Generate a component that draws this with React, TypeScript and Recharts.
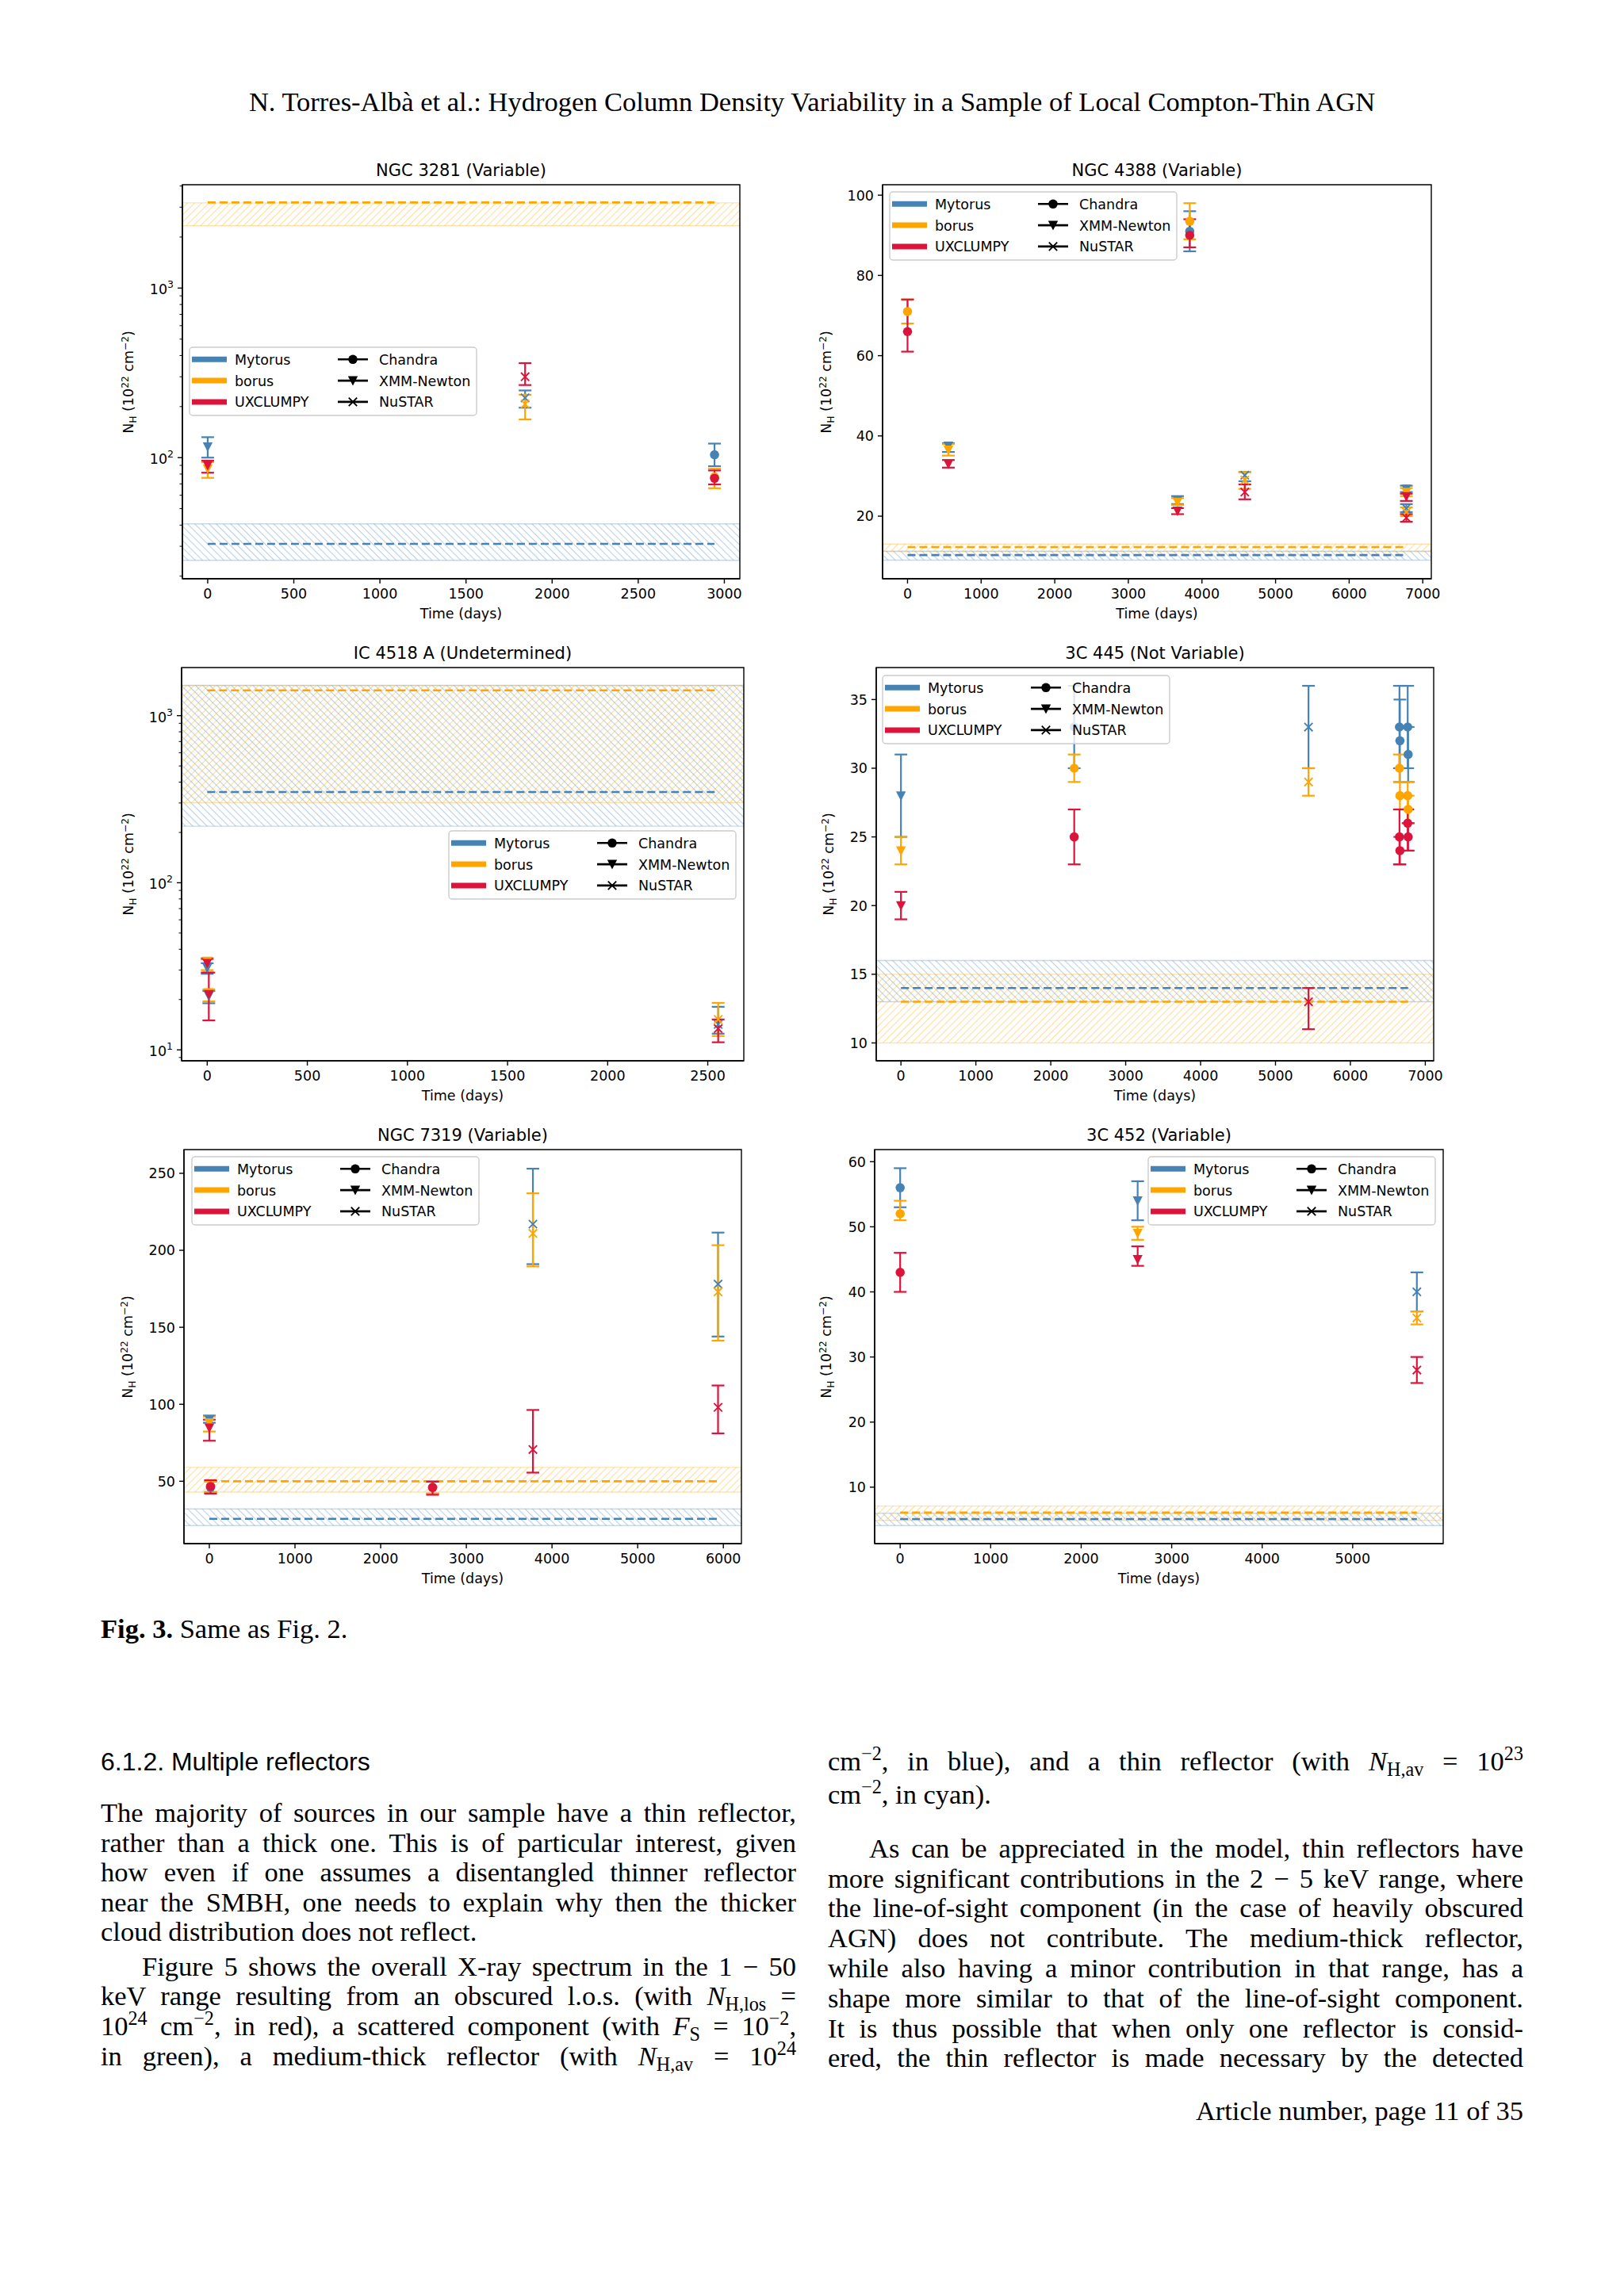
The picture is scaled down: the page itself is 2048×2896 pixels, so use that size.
import React from 'react';
import { ComposedChart, Scatter, XAxis, YAxis, ErrorBar, ReferenceArea, ReferenceLine } from 'recharts';

// ------------------------------------------------------------------ data
const MODELS = ['Mytorus', 'borus', 'UXCLUMPY'];
const INSTRUMENTS = ['Chandra', 'XMM-Newton', 'NuSTAR'];

// NGC 3281
const ngc3281Time = [0, 1843, 2943];
const ngc3281Instr = ['XMM-Newton', 'NuSTAR', 'Chandra'];
const ngc3281Mytorus = [116, 225, 104];
const ngc3281MytorusRange = [[100, 132], [197, 249], [89, 121]];
const ngc3281Borus = [86, 207, 77];
const ngc3281BorusRange = [[76, 94], [168, 235], [66, 86]];
const ngc3281Uxclumpy = [90, 300, 75.5];
const ngc3281UxclumpyRange = [[81.5, 96], [268, 361], [69.5, 84]];
const ngc3281MytorusRefl = [31, 24.8, 40.7];
const ngc3281BorusRefl = [3200, 2330, 3180];
const ngc3281XTicks = [0, 500, 1000, 1500, 2000, 2500, 3000];
const ngc3281YTicks = [100, 1000];
const ngc3281YMinor = [20, 30, 40, 50, 60, 70, 80, 90, 200, 300, 400, 500, 600, 700, 800, 900, 2000, 3000, 4000];

// NGC 4388
const ngc4388Time = [0, 555, 3668, 3834, 4582, 6777, 6777];
const ngc4388Instr = ['Chandra', 'XMM-Newton', 'XMM-Newton', 'Chandra', 'NuSTAR', 'XMM-Newton', 'NuSTAR'];
const ngc4388Mytorus = [null, 37.5, 24, 91, 30.2, 26.8, 22];
const ngc4388MytorusRange = [null, [36, 38.2], [23, 25], [86, 96], [28.7, 31], [26, 27.6], [21, 23]];
const ngc4388Borus = [71, 36.5, 23.5, 93.5, 29, 26, 21];
const ngc4388BorusRange = [[68, 74], [35.1, 38], [22.8, 24.5], [89, 98], [26.8, 31], [25, 27], [20, 22.2]];
const ngc4388Uxclumpy = [66, 33, 21.3, 90, 26, 24.9, 19.6];
const ngc4388UxclumpyRange = [[61, 74], [32.1, 34], [20.5, 22], [87, 94], [24.2, 27.9], [23.8, 25.6], [18.6, 20.5]];
const ngc4388MytorusRefl = [10.3, 9.05, 11.3];
const ngc4388BorusRefl = [12.3, 11.15, 13.05];
const ngc4388XTicks = [0, 1000, 2000, 3000, 4000, 5000, 6000, 7000];
const ngc4388YTicks = [20, 40, 60, 80, 100];

// IC 4518 A
const ic4518Time = [0, 8, 2552];
const ic4518Instr = ['XMM-Newton', 'XMM-Newton', 'NuSTAR'];
const ic4518Mytorus = [31, 21, 14.2];
const ic4518MytorusRange = [[28.5, 33], [19, 22.5], [12.5, 18.1]];
const ic4518Borus = [34, 22, 15.2];
const ic4518BorusRange = [[30, 35.5], [19.5, 23], [12.1, 19.1]];
const ic4518Uxclumpy = [33, 21.5, 13.4];
const ic4518UxclumpyRange = [[29, 35], [15, 29], [11.1, 15.2]];
const ic4518MytorusRefl = [349, 218, 1520];
const ic4518BorusRefl = [1416, 301, 1508];
const ic4518XTicks = [0, 500, 1000, 1500, 2000, 2500];
const ic4518YTicks = [10, 100, 1000];
const ic4518YMinor = [9, 20, 30, 40, 50, 60, 70, 80, 90, 200, 300, 400, 500, 600, 700, 800, 900];

// 3C 445
const c445Time = [0, 2313, 5441, 6655, 6661, 6765, 6771];
const c445Instr = ['XMM-Newton', 'Chandra', 'NuSTAR', 'Chandra', 'Chandra', 'Chandra', 'Chandra'];
const c445Mytorus = [28, 33, 33, 33, 32, 33, 31];
const c445MytorusRange = [[25, 31], [30, 36], [30, 36], [30, 36], [29, 35], [30, 36], [29, 33]];
const c445Borus = [24, 30, 29, 30, 28, 28, 27];
const c445BorusRange = [[23, 25], [29, 31], [28, 30], [29, 31], [27, 29], [27, 29], [26, 28]];
const c445Uxclumpy = [20, 25, 13, 25, 24, 26, 25];
const c445UxclumpyRange = [[19, 21], [23, 27], [11, 14], [23, 27], [23, 25], [24, 27], [24, 26]];
const c445MytorusRefl = [14, 13, 16];
const c445BorusRefl = [13, 10, 15];
const c445XTicks = [0, 1000, 2000, 3000, 4000, 5000, 6000, 7000];
const c445YTicks = [10, 15, 20, 25, 30, 35];

// NGC 7319
const ngc7319Time = [0, 14, 2606, 3777, 5938];
const ngc7319Instr = ['XMM-Newton', 'Chandra', 'Chandra', 'NuSTAR', 'NuSTAR'];
const ngc7319Mytorus = [90, 46, 46, 217, 178];
const ngc7319MytorusRange = [[88, 92.7], [43, 50], [42, 50], [191, 253], [144, 211.5]];
const ngc7319Borus = [88, 47, 46, 211, 173];
const ngc7319BorusRange = [[82.3, 92], [43, 50], [42, 50], [189.5, 237], [141.3, 203.3]];
const ngc7319Uxclumpy = [84.7, 46.6, 46, 70.6, 98];
const ngc7319UxclumpyRange = [[76.3, 90], [42, 50.7], [41.2, 49.7], [55.6, 96.3], [81.1, 112.2]];
const ngc7319MytorusRefl = [25.6, 21.2, 32];
const ngc7319BorusRefl = [50, 43, 59];
const ngc7319XTicks = [0, 1000, 2000, 3000, 4000, 5000, 6000];
const ngc7319YTicks = [50, 100, 150, 200, 250];

// 3C 452
const c452Time = [0, 2624, 5709];
const c452Instr = ['Chandra', 'XMM-Newton', 'NuSTAR'];
const c452Mytorus = [56, 54, 40];
const c452MytorusRange = [[53, 59], [51, 57], [37, 43]];
const c452Borus = [52, 49, 36];
const c452BorusRange = [[51, 54], [48, 50], [35, 37]];
const c452Uxclumpy = [43, 45, 28];
const c452UxclumpyRange = [[40, 46], [44, 47], [26, 30]];
const c452MytorusRefl = [5.1, 4.1, 6.0];
const c452BorusRefl = [6.1, 4.9, 7.1];
const c452XTicks = [0, 1000, 2000, 3000, 4000, 5000];
const c452YTicks = [10, 20, 30, 40, 50, 60];

// ------------------------------------------------------------------ styles
const COLORS: Record<string, string> = { Mytorus: '#4682B4', borus: '#FFA500', UXCLUMPY: '#DC143C' };
const FIG_FONT = 'DejaVu Sans, Verdana, sans-serif';
const FS = 17.5;
const SERIF = 'Liberation Serif, Times New Roman, serif';

const panels: any[] = [
  {
    id: 'p1', title: 'NGC 3281 (Variable)', box: { x: 230, y: 233, w: 703, h: 497 }, ylabelX: 163, legend: { x: 239, y: 438 },
    xDomain: [-147, 3090], yDomain: [19.3, 4070], log: true, xTicks: ngc3281XTicks, yTicks: ngc3281YTicks, yMinor: ngc3281YMinor,
    time: ngc3281Time, instr: ngc3281Instr, values: [ngc3281Mytorus, ngc3281Borus, ngc3281Uxclumpy],
    ranges: [ngc3281MytorusRange, ngc3281BorusRange, ngc3281UxclumpyRange], mytRefl: ngc3281MytorusRefl, borRefl: ngc3281BorusRefl,
  },
  {
    id: 'p2', title: 'NGC 4388 (Variable)', box: { x: 1113, y: 233, w: 692, h: 497 }, ylabelX: 1043, legend: { x: 1122, y: 242 },
    xDomain: [-339, 7116], yDomain: [4.4, 102.6], log: false, xTicks: ngc4388XTicks, yTicks: ngc4388YTicks, yMinor: [],
    time: ngc4388Time, instr: ngc4388Instr, values: [ngc4388Mytorus, ngc4388Borus, ngc4388Uxclumpy],
    ranges: [ngc4388MytorusRange, ngc4388BorusRange, ngc4388UxclumpyRange], mytRefl: ngc4388MytorusRefl, borRefl: ngc4388BorusRefl,
  },
  {
    id: 'p3', title: 'IC 4518 A (Undetermined)', box: { x: 229, y: 842, w: 709, h: 496 }, ylabelX: 163, legend: { x: 566, y: 1048 },
    xDomain: [-128, 2680], yDomain: [8.6, 1940], log: true, xTicks: ic4518XTicks, yTicks: ic4518YTicks, yMinor: ic4518YMinor,
    time: ic4518Time, instr: ic4518Instr, values: [ic4518Mytorus, ic4518Borus, ic4518Uxclumpy],
    ranges: [ic4518MytorusRange, ic4518BorusRange, ic4518UxclumpyRange], mytRefl: ic4518MytorusRefl, borRefl: ic4518BorusRefl,
  },
  {
    id: 'p4', title: '3C 445 (Not Variable)', box: { x: 1105, y: 842, w: 703, h: 496 }, ylabelX: 1046, legend: { x: 1113, y: 852 },
    xDomain: [-330, 7112], yDomain: [8.7, 37.33], log: false, xTicks: c445XTicks, yTicks: c445YTicks, yMinor: [],
    time: c445Time, instr: c445Instr, values: [c445Mytorus, c445Borus, c445Uxclumpy],
    ranges: [c445MytorusRange, c445BorusRange, c445UxclumpyRange], mytRefl: c445MytorusRefl, borRefl: c445BorusRefl,
  },
  {
    id: 'p5', title: 'NGC 7319 (Variable)', box: { x: 232, y: 1450, w: 703, h: 497 }, ylabelX: 162, legend: { x: 242, y: 1459 },
    xDomain: [-296, 6211], yDomain: [9.5, 265.4], log: false, xTicks: ngc7319XTicks, yTicks: ngc7319YTicks, yMinor: [],
    time: ngc7319Time, instr: ngc7319Instr, values: [ngc7319Mytorus, ngc7319Borus, ngc7319Uxclumpy],
    ranges: [ngc7319MytorusRange, ngc7319BorusRange, ngc7319UxclumpyRange], mytRefl: ngc7319MytorusRefl, borRefl: ngc7319BorusRefl,
  },
  {
    id: 'p6', title: '3C 452 (Variable)', box: { x: 1103, y: 1450, w: 717, h: 497 }, ylabelX: 1043, legend: { x: 1448, y: 1459 },
    xDomain: [-282, 6000], yDomain: [1.33, 61.86], log: false, xTicks: c452XTicks, yTicks: c452YTicks, yMinor: [],
    time: c452Time, instr: c452Instr, values: [c452Mytorus, c452Borus, c452Uxclumpy],
    ranges: [c452MytorusRange, c452BorusRange, c452UxclumpyRange], mytRefl: c452MytorusRefl, borRefl: c452BorusRefl,
  },
];

// ------------------------------------------------------------------ helpers
function rowsFor(p: any, mi: number, inst: string) {
  const vals = p.values[mi];
  const rng = p.ranges[mi];
  const out: any[] = [];
  p.time.forEach((t: number, i: number) => {
    if (vals[i] == null || p.instr[i] !== inst) return;
    out.push({ t, v: vals[i], err: [vals[i] - rng[i][0], rng[i][1] - vals[i]] });
  });
  return out;
}

const markerShape = (inst: string, color: string) => (props: any) => {
  const { cx, cy } = props;
  if (cx == null || cy == null || isNaN(cx) || isNaN(cy)) return <g />;
  if (inst === 'Chandra') return <circle cx={cx} cy={cy} r={5.8} fill={color} />;
  if (inst === 'XMM-Newton')
    return <path d={`M${cx - 6.2},${cy - 5.5} L${cx + 6.2},${cy - 5.5} L${cx},${cy + 6.5} Z`} fill={color} />;
  return (
    <path d={`M${cx - 5.2},${cy - 5.2} L${cx + 5.2},${cy + 5.2} M${cx - 5.2},${cy + 5.2} L${cx + 5.2},${cy - 5.2}`}
      stroke={color} strokeWidth={1.9} fill="none" />
  );
};

const XTick = (props: any) => {
  const { x, y, payload } = props;
  return (
    <g>
      <line x1={x} y1={y} x2={x} y2={y + 6} stroke="#000" strokeWidth={1.4} />
      <text x={x} y={y + 25} textAnchor="middle" fontSize={FS} fontFamily={FIG_FONT} fill="#000">{payload.value}</text>
    </g>
  );
};

const YTick = (props: any) => {
  const { x, y, payload, log, majors } = props;
  const v = payload.value;
  const isMajor = majors.includes(v);
  const len = isMajor ? 6 : 3.5;
  return (
    <g>
      <line x1={x - len} y1={y} x2={x} y2={y} stroke="#000" strokeWidth={isMajor ? 1.4 : 1.0} />
      {isMajor && !log && (
        <text x={x - 11} y={y + 6.4} textAnchor="end" fontSize={FS} fontFamily={FIG_FONT} fill="#000">{v}</text>
      )}
      {isMajor && log && (
        <text x={x - 11} y={y + 8} textAnchor="end" fontSize={FS} fontFamily={FIG_FONT} fill="#000">
          10<tspan dy={-8} fontSize={12.5}>{Math.round(Math.log10(v))}</tspan>
        </text>
      )}
    </g>
  );
};

function LegendBox({ x, y }: { x: number; y: number }) {
  const rows = [15.3, 42.1, 68.9];
  const W = 362, H = 86;
  return (
    <svg width={W + 2} height={H + 2} style={{ position: 'absolute', left: x - 1, top: y - 1 }}>
      <rect x={1} y={1} width={W} height={H} rx={4} fill="#fff" fillOpacity={0.8} stroke="#cccccc" strokeWidth={1.4} />
      {MODELS.map((m, i) => (
        <g key={m}>
          <line x1={4} x2={48} y1={rows[i] + 1} y2={rows[i] + 1} stroke={COLORS[m]} strokeWidth={7} />
          <text x={58} y={rows[i] + 7.4} fontSize={FS} fontFamily={FIG_FONT} fill="#000">{m}</text>
        </g>
      ))}
      {INSTRUMENTS.map((ins, i) => {
        const cx = 207, cy = rows[i] + 1;
        return (
          <g key={ins}>
            <line x1={188} x2={226} y1={cy} y2={cy} stroke="#000" strokeWidth={2.6} />
            {markerShape(ins, '#000')({ cx, cy })}
            <text x={240} y={rows[i] + 7.4} fontSize={FS} fontFamily={FIG_FONT} fill="#000">{ins}</text>
          </g>
        );
      })}
    </svg>
  );
}

function Panel({ p }: { p: any }) {
  const ML = 110, MT = 10, MR = 40, MB = 60;
  const W = p.box.w + ML + MR;
  const H = p.box.h + MT + MB;
  const tMax = Math.max(...p.time);
  const allYTicks = p.log ? [...p.yTicks, ...p.yMinor].sort((a: number, b: number) => a - b) : p.yTicks;
  const cy = p.box.y + p.box.h / 2;
  return (
    <>
      <div style={{ position: 'absolute', left: p.box.x - ML, top: p.box.y - MT }}>
        <ComposedChart width={W} height={H} margin={{ top: MT, right: MR, bottom: 0, left: 0 }}>
          <defs>
            <pattern id={`${p.id}-myt`} patternUnits="userSpaceOnUse" width={6.4} height={6.4} patternTransform="rotate(-45)">
              <line x1={3.2} y1={0} x2={3.2} y2={6.4} stroke={COLORS.Mytorus} strokeWidth={1.1} strokeOpacity={0.38} />
            </pattern>
            <pattern id={`${p.id}-bor`} patternUnits="userSpaceOnUse" width={6.4} height={6.4} patternTransform="rotate(45)">
              <line x1={3.2} y1={0} x2={3.2} y2={6.4} stroke={COLORS.borus} strokeWidth={1.1} strokeOpacity={0.38} />
            </pattern>
          </defs>
          <XAxis dataKey="t" type="number" domain={p.xDomain} allowDataOverflow ticks={p.xTicks} interval={0}
            height={MB} tickSize={0} tickMargin={0} tickLine={false} axisLine={{ stroke: '#000', strokeWidth: 1.4 }} tick={<XTick />} />
          <YAxis dataKey="v" type="number" scale={p.log ? 'log' : 'linear'} domain={p.yDomain} allowDataOverflow
            ticks={allYTicks} interval={0} width={ML} tickSize={0} tickMargin={0} tickLine={false}
            axisLine={{ stroke: '#000', strokeWidth: 1.4 }} tick={<YTick log={p.log} majors={p.yTicks} />} />
          <ReferenceArea y1={p.mytRefl[1]} y2={p.mytRefl[2]} fill={`url(#${p.id}-myt)`} fillOpacity={1}
            stroke={COLORS.Mytorus} strokeOpacity={0.3} strokeWidth={1.4} ifOverflow="hidden" />
          <ReferenceArea y1={p.borRefl[1]} y2={p.borRefl[2]} fill={`url(#${p.id}-bor)`} fillOpacity={1}
            stroke={COLORS.borus} strokeOpacity={0.3} strokeWidth={1.4} ifOverflow="hidden" />
          <ReferenceLine segment={[{ x: 0, y: p.mytRefl[0] }, { x: tMax, y: p.mytRefl[0] }]} stroke={COLORS.Mytorus}
            strokeWidth={2.6} strokeDasharray="10 5" ifOverflow="hidden" />
          <ReferenceLine segment={[{ x: 0, y: p.borRefl[0] }, { x: tMax, y: p.borRefl[0] }]} stroke={COLORS.borus}
            strokeWidth={2.6} strokeDasharray="10 5" ifOverflow="hidden" />
          {INSTRUMENTS.map((inst) =>
            MODELS.map((m, mi) => {
              const rows = rowsFor(p, mi, inst);
              if (rows.length === 0) return null;
              return (
                <Scatter key={`${inst}-${m}`} data={rows} dataKey="v" isAnimationActive={false}
                  shape={markerShape(inst, COLORS[m])}>
                  <ErrorBar dataKey="err" direction="y" width={8} stroke={COLORS[m]} strokeWidth={2.2} isAnimationActive={false} />
                </Scatter>
              );
            })
          )}
          <ReferenceArea x1={p.xDomain[0]} x2={p.xDomain[1]} y1={p.yDomain[0]} y2={p.yDomain[1]}
            fill="none" fillOpacity={0} stroke="#000" strokeWidth={1.4} ifOverflow="visible" />
        </ComposedChart>
      </div>
      <div style={{ position: 'absolute', left: p.box.x, width: p.box.w, top: p.box.y - 18 - 11, textAlign: 'center',
        fontFamily: FIG_FONT, fontSize: 21, lineHeight: '22px', color: '#000', whiteSpace: 'nowrap' }}>{p.title}</div>
      <div style={{ position: 'absolute', left: p.box.x, width: p.box.w, top: p.box.y + p.box.h + 44 - 10, textAlign: 'center',
        fontFamily: FIG_FONT, fontSize: FS, lineHeight: '20px', color: '#000', whiteSpace: 'nowrap' }}>Time (days)</div>
      <div style={{ position: 'absolute', left: p.ylabelX, top: cy, transform: 'translate(-50%, -50%) rotate(-90deg)',
        fontFamily: FIG_FONT, fontSize: FS, lineHeight: '20px', color: '#000', whiteSpace: 'nowrap' }}>
        N<span style={{ fontSize: '0.7em', position: 'relative', top: '0.3em' }}>H</span>&nbsp;(10
        <span style={{ fontSize: '0.7em', position: 'relative', top: '-0.5em' }}>22</span>&nbsp;cm
        <span style={{ fontSize: '0.7em', position: 'relative', top: '-0.5em' }}>−2</span>)
      </div>
      <LegendBox x={p.legend.x} y={p.legend.y} />
    </>
  );
}

// ------------------------------------------------------------------ page text
const Sup = ({ children }: any) => (
  <span style={{ fontSize: '0.7em', position: 'relative', top: '-0.55em', lineHeight: 0 }}>{children}</span>
);
const Sub = ({ children }: any) => (
  <span style={{ fontSize: '0.7em', position: 'relative', top: '0.3em', lineHeight: 0 }}>{children}</span>
);

const TFS = 34.5;
function Line({ x, w, base, children, justify = true, indent = 0, font = SERIF, size = TFS }: any) {
  return (
    <div style={{ position: 'absolute', left: x + indent, width: w - indent, top: base - 0.838 * size,
      fontFamily: font, fontSize: size, lineHeight: `${size}px`, color: '#000',
      textAlign: justify ? 'justify' : 'left', textAlignLast: justify ? 'justify' : 'left', whiteSpace: 'normal' } as any}>
      {children}
    </div>
  );
}

const LX = 127, RX = 1044, CW = 877;

export default function App() {
  return (
    <div style={{ position: 'absolute', left: 0, top: 0, width: 2048, height: 2896, background: '#fff', overflow: 'hidden' }}>
      <div style={{ position: 'absolute', left: 0, width: 2048, top: 140 - 0.838 * TFS, textAlign: 'center',
        fontFamily: SERIF, fontSize: TFS, lineHeight: `${TFS}px`, color: '#000', whiteSpace: 'nowrap' }}>
        N. Torres-Albà et al.: Hydrogen Column Density Variability in a Sample of Local Compton-Thin AGN
      </div>

      {panels.map((p) => <Panel key={p.id} p={p} />)}

      <Line x={LX} w={CW} base={2066} justify={false}><b>Fig. 3.</b> Same as Fig. 2.</Line>

      <Line x={LX} w={CW} base={2233} justify={false} font="Liberation Sans, Arial, sans-serif" size={32}>6.1.2. Multiple reflectors</Line>
      <Line x={LX} w={CW} base={2298}>The majority of sources in our sample have a thin reflector,</Line>
      <Line x={LX} w={CW} base={2336}>rather than a thick one. This is of particular interest, given</Line>
      <Line x={LX} w={CW} base={2373}>how even if one assumes a disentangled thinner reflector</Line>
      <Line x={LX} w={CW} base={2411}>near the SMBH, one needs to explain why then the thicker</Line>
      <Line x={LX} w={CW} base={2448} justify={false}>cloud distribution does not reflect.</Line>
      <Line x={LX} w={CW} base={2492} indent={52}>Figure 5 shows the overall X-ray spectrum in the 1 − 50</Line>
      <Line x={LX} w={CW} base={2529}>keV range resulting from an obscured l.o.s. (with <i>N</i><Sub>H,los</Sub> =</Line>
      <Line x={LX} w={CW} base={2567}>10<Sup>24</Sup> cm<Sup>−2</Sup>, in red), a scattered component (with <i>F</i><Sub>S</Sub> = 10<Sup>−2</Sup>,</Line>
      <Line x={LX} w={CW} base={2605}>in green), a medium-thick reflector (with <i>N</i><Sub>H,av</Sub> = 10<Sup>24</Sup></Line>

      <Line x={RX} w={CW} base={2233}>cm<Sup>−2</Sup>, in blue), and a thin reflector (with <i>N</i><Sub>H,av</Sub> = 10<Sup>23</Sup></Line>
      <Line x={RX} w={CW} base={2275} justify={false}>cm<Sup>−2</Sup>, in cyan).</Line>
      <Line x={RX} w={CW} base={2343} indent={52}>As can be appreciated in the model, thin reflectors have</Line>
      <Line x={RX} w={CW} base={2381}>more significant contributions in the 2 − 5 keV range, where</Line>
      <Line x={RX} w={CW} base={2418}>the line-of-sight component (in the case of heavily obscured</Line>
      <Line x={RX} w={CW} base={2456}>AGN) does not contribute. The medium-thick reflector,</Line>
      <Line x={RX} w={CW} base={2494}>while also having a minor contribution in that range, has a</Line>
      <Line x={RX} w={CW} base={2532}>shape more similar to that of the line-of-sight component.</Line>
      <Line x={RX} w={CW} base={2570}>It is thus possible that when only one reflector is consid-</Line>
      <Line x={RX} w={CW} base={2607}>ered, the thin reflector is made necessary by the detected</Line>

      <div style={{ position: 'absolute', right: 2048 - 1921, top: 2674 - 0.838 * TFS, fontFamily: SERIF, fontSize: TFS,
        lineHeight: `${TFS}px`, color: '#000', whiteSpace: 'nowrap' }}>Article number, page 11 of 35</div>
    </div>
  );
}
